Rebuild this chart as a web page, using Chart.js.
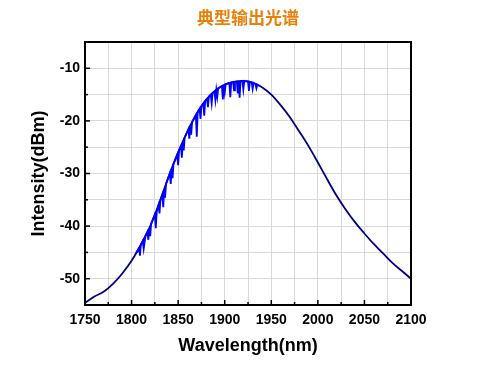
<!DOCTYPE html>
<html>
<head>
<meta charset="utf-8">
<script src="https://cdn.jsdelivr.net/npm/chart.js@4.4.0/dist/chart.umd.js"></script>
<style>
    html, body { margin: 0; padding: 0; background: #fff; }
</style>
</head>
<body>
<canvas id="spectrum" width="477" height="367"></canvas>
<script>
// 图表数据
const chartTitle = '典型输出光谱';
const xTickLabels = [1750, 1800, 1850, 1900, 1950, 2000, 2050, 2100];
const yTickLabels = [-10, -20, -30, -40, -50];

// 平滑包络 (navy)
const envWl = [1750, 1760, 1770, 1780, 1790, 1800, 1810, 1820, 1830, 1840,
               1850, 1860, 1870, 1880, 1890, 1900, 1910, 1920, 1930, 1940,
               1950, 1960, 1970, 1980, 1990, 2000, 2010, 2020, 2030, 2040,
               2050, 2060, 2070, 2080, 2090, 2100];
const envDb = [-54.6, -53.4, -52.5, -51.0, -49.0, -46.6, -43.5, -40.0, -35.5, -30.5,
               -26.0, -22.0, -18.6, -16.0, -14.2, -13.1, -12.6, -12.4, -12.7, -13.6,
               -15.0, -17.0, -19.3, -22.0, -24.8, -27.9, -31.1, -34.2, -36.9, -39.3,
               -41.4, -43.4, -45.2, -47.0, -48.5, -50.0];

// 带凹陷的原始谱线 (blue)
const noisyWl = [1805, 1808, 1809, 1810, 1812, 1813, 1815, 1817, 1818, 1819,
                 1820, 1821, 1823, 1825, 1826, 1827, 1829, 1830, 1831, 1833,
                 1834, 1835, 1836, 1837, 1839, 1841, 1842, 1843, 1844, 1845,
                 1847, 1849, 1850, 1851, 1853, 1854, 1855, 1856, 1857, 1859,
                 1861, 1862, 1863, 1864, 1865, 1867, 1869, 1870, 1871, 1873,
                 1874, 1875, 1877, 1878, 1879, 1881, 1882, 1883, 1885, 1886,
                 1887, 1889, 1890, 1891, 1892, 1893, 1895, 1897, 1898, 1899,
                 1900, 1901, 1903, 1905, 1906, 1907, 1909, 1910, 1911, 1913,
                 1914, 1915, 1916, 1917, 1919, 1920, 1921, 1923, 1925, 1926,
                 1927, 1929, 1930, 1931, 1933, 1934, 1935, 1938];
const noisyDb = [-45.1, -44.2, -45.6, -43.5, -42.8, -44.3, -41.8, -41.1, -42.6, -40.4,
                 -41.9, -39.6, -38.7, -37.8, -40.4, -37.3, -36.0, -37.6, -35.0, -34.0,
                 -36.4, -33.0, -34.6, -32.0, -31.0, -30.0, -32.0, -29.1, -30.9, -28.2,
                 -27.3, -26.4, -28.4, -25.6, -24.8, -27.0, -24.0, -25.6, -23.2, -22.4,
                 -21.6, -23.4, -20.9, -22.6, -20.2, -19.6, -18.9, -23.0, -18.3, -17.7,
                 -19.6, -17.2, -16.7, -19.0, -16.2, -15.8, -17.4, -15.4, -15.0, -16.6,
                 -14.7, -14.4, -16.0, -14.1, -15.4, -13.8, -13.6, -13.4, -15.9, -13.2,
                 -14.6, -13.0, -12.9, -12.8, -15.5, -12.7, -12.6, -14.2, -12.6, -12.5,
                 -14.8, -12.5, -15.6, -12.4, -12.4, -14.0, -12.4, -12.5, -12.5, -14.3,
                 -12.6, -12.7, -13.9, -12.8, -13.0, -13.8, -13.1, -13.4];

const FONT = "'Liberation Sans', Arial, sans-serif";

// 标题 + 边框 + 内向刻度
const framePlugin = {
    id: 'frame',
    afterDraw(chart) {
        const { ctx, chartArea: a, scales } = chart;
        ctx.save();
        ctx.strokeStyle = '#000';
        ctx.lineWidth = 2;
        ctx.strokeRect(a.left, a.top, a.right - a.left, a.bottom - a.top);

        ctx.lineWidth = 1.5;
        scales.x.ticks.forEach(t => {
            const px = scales.x.getPixelForValue(t.value);
            const len = xTickLabels.includes(t.value) ? 5 : 3;
            ctx.beginPath();
            ctx.moveTo(px, a.bottom);
            ctx.lineTo(px, a.bottom - len);
            ctx.stroke();
        });
        scales.y.ticks.forEach(t => {
            const py = scales.y.getPixelForValue(t.value);
            const len = yTickLabels.includes(t.value) ? 5 : 3;
            ctx.beginPath();
            ctx.moveTo(a.left, py);
            ctx.lineTo(a.left + len, py);
            ctx.stroke();
        });

        ctx.fillStyle = '#e8800a';
        ctx.font = "bold 17px 'Noto Sans CJK SC', sans-serif";
        ctx.textAlign = 'center';
        ctx.textBaseline = 'middle';
        ctx.fillText(chartTitle, (a.left + a.right) / 2, 18);
        ctx.restore();
    }
};

new Chart(document.getElementById('spectrum'), {
    type: 'line',
    data: {
        datasets: [{
            label: 'raw',
            data: noisyWl.map((x, i) => ({ x, y: noisyDb[i] })),
            borderColor: '#0000ff',
            borderWidth: 1.8,
            pointRadius: 0,
            tension: 0,
            order: 0
        }, {
            label: 'envelope',
            data: envWl.map((x, i) => ({ x, y: envDb[i] })),
            borderColor: '#000080',
            borderWidth: 1.8,
            pointRadius: 0,
            cubicInterpolationMode: 'monotone',
            order: 1
        }]
    },
    options: {
        responsive: false,
        animation: false,
        layout: { padding: { top: 42, right: 66, left: 0, bottom: 0 } },
        plugins: {
            legend: { display: false },
            tooltip: { enabled: false }
        },
        scales: {
            x: {
                type: 'linear',
                min: 1750,
                max: 2100,
                afterFit: s => { s.height = 62; },
                border: { display: false },
                grid: { color: '#d9d9d9', lineWidth: 1, drawTicks: false },
                ticks: {
                    stepSize: 25,
                    padding: 7,
                    color: '#000',
                    maxRotation: 0,
                    autoSkip: false,
                    font: { family: FONT, size: 14, weight: 'bold' },
                    callback: v => xTickLabels.includes(v) ? String(v) : ''
                },
                title: {
                    display: true,
                    text: 'Wavelength(nm)',
                    color: '#000',
                    padding: { top: 0, bottom: 10 },
                    font: { family: FONT, size: 18, weight: 'bold' }
                }
            },
            y: {
                min: -55,
                max: -5,
                afterFit: s => { s.width = 85; },
                border: { display: false },
                grid: { color: '#d9d9d9', lineWidth: 1, drawTicks: false },
                ticks: {
                    stepSize: 5,
                    padding: 5,
                    color: '#000',
                    autoSkip: false,
                    font: { family: FONT, size: 14, weight: 'bold' },
                    callback: v => yTickLabels.includes(v) ? String(v) : ''
                },
                title: {
                    display: true,
                    text: 'Intensity(dBm)',
                    color: '#000',
                    padding: { top: 28, bottom: 0 },
                    font: { family: FONT, size: 18, weight: 'bold' }
                }
            }
        }
    },
    plugins: [framePlugin]
});
</script>
</body>
</html>
